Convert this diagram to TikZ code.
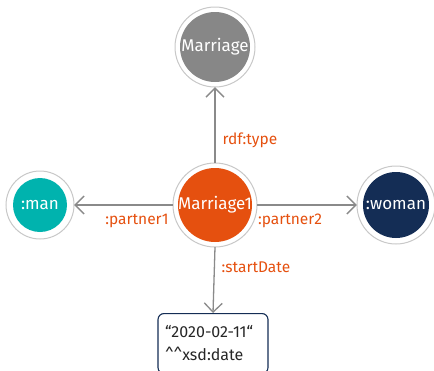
\documentclass[tikz,border=0pt]{standalone}
\usepackage{fontspec}
\setmainfont{Fira Sans}
\usetikzlibrary{arrows.meta}
\definecolor{ringgray}{HTML}{C8C8C8}
\definecolor{classgray}{HTML}{878787}
\definecolor{relorange}{HTML}{E5500F}
\definecolor{manteal}{HTML}{00B3AE}
\definecolor{womannavy}{HTML}{142D55}
\definecolor{edgegray}{HTML}{8A8A8A}
\tikzset{
  restext/.style={text=white, font=\fontsize{17}{20}\selectfont},
  lit/.style={draw=womannavy, line width=1.1pt, rounded corners=6pt, align=left,
    font=\fontsize{16}{23}\selectfont, inner xsep=7pt, inner ysep=4pt, text=black!85,
    text width=96pt, minimum height=60pt, anchor=north},
  rel/.style={draw=edgegray, line width=1.3pt, -{Straight Barb[length=9pt,width=18pt,line width=1.3pt]}},
  lbl/.style={text=relorange, font=\fontsize{15.5}{18}\selectfont}
}
\begin{document}
\begin{tikzpicture}[x=1pt,y=-1pt]
  \useasboundingbox (0,0) rectangle (434,370);
  % resource nodes: white ring around a filled disc
  \newcommand{\resnode}[5]{%
    \fill[white] (#2) circle (#3);
    \draw[ringgray, line width=1pt] (#2) circle (#3);
    \fill[#5] (#2) circle (#4);
    \node[circle, minimum size=2*#3, inner sep=0pt] (#1) at (#2) {};
  }
  \resnode{cls}{215,47}{40}{35}{classgray}
  \resnode{mar}{215,205}{42}{37}{relorange}
  \resnode{man}{40,205}{34}{27}{manteal}
  \resnode{wom}{396,205}{39}{33}{womannavy}
  \node[restext] at (cls) {Marriage};
  \node[restext] at (mar) {Marriage1};
  \node[restext] at (man) {:man};
  \node[restext] at (wom) {:woman};
  % literal value
  \node[lit] (date) at (213,313) {“2020-02-11“\\\^{}\^{}xsd:date};
  % properties
  \draw[rel] (mar.north) -- (cls.south);
  \draw[rel] (mar.west) -- (man.east);
  \draw[rel] (mar.east) -- (wom.west);
  \draw[rel] (mar.south) -- (date.north);
  \node[lbl, anchor=west] at (219,140) {rdf:type};
  \node[lbl] at (137,221) {:partner1};
  \node[lbl] at (290,221) {:partner2};
  \node[lbl, anchor=west] at (218,267) {:startDate};
\end{tikzpicture}
\end{document}
